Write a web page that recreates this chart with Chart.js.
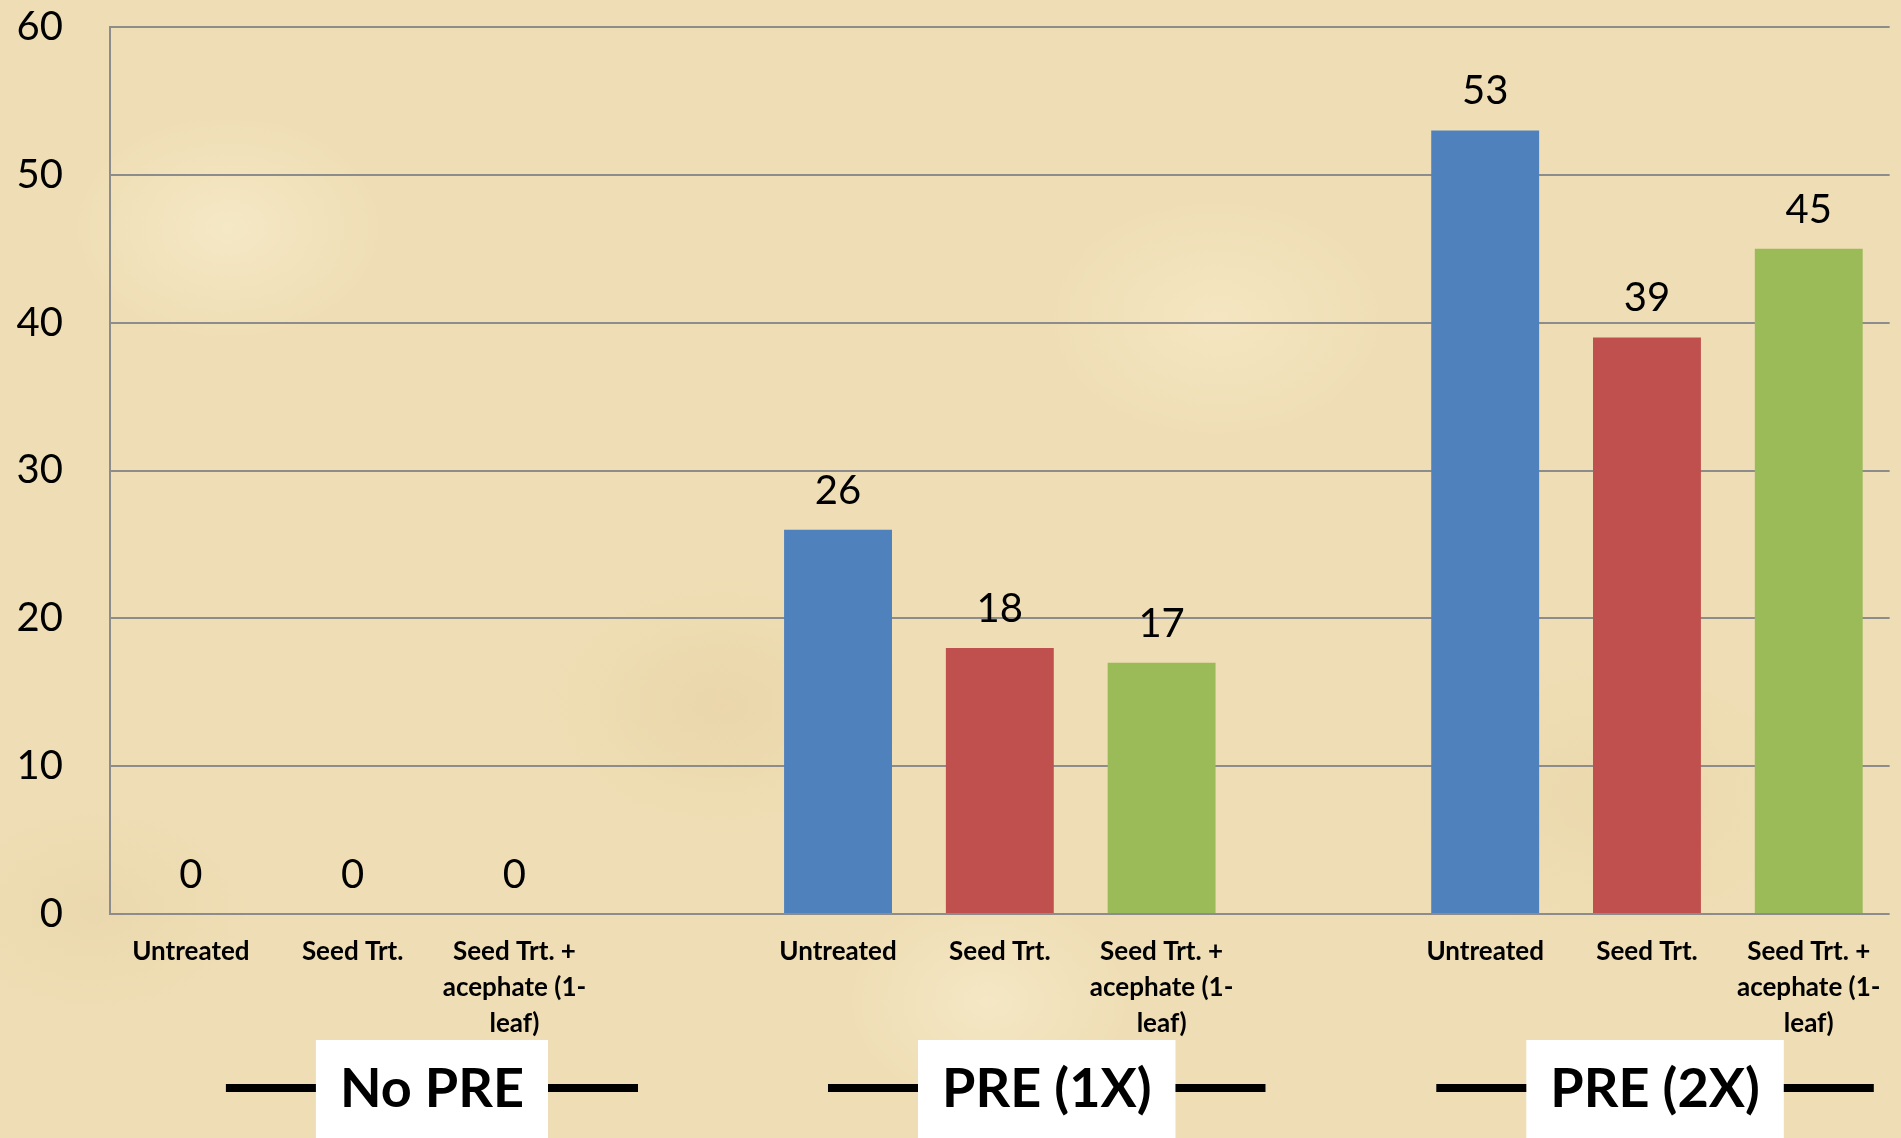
<!DOCTYPE html>
<html>
<head>
<meta charset="utf-8">
<script src="https://cdn.jsdelivr.net/npm/chart.js@4.4.1/dist/chart.umd.min.js"></script>
<style>
  html, body { margin: 0; padding: 0; }
  body {
    width: 1901px;
    height: 1138px;
    overflow: hidden;
    background-color: #efdeb5;
    background-image:
      radial-gradient(ellipse 220px 160px at 12% 20%, rgba(250, 240, 210, 0.55), rgba(250, 240, 210, 0) 70%),
      radial-gradient(ellipse 260px 180px at 38% 62%, rgba(225, 200, 150, 0.35), rgba(225, 200, 150, 0) 70%),
      radial-gradient(ellipse 240px 170px at 64% 28%, rgba(250, 238, 205, 0.5), rgba(250, 238, 205, 0) 70%),
      radial-gradient(ellipse 300px 200px at 85% 70%, rgba(228, 205, 158, 0.35), rgba(228, 205, 158, 0) 70%),
      radial-gradient(ellipse 200px 150px at 52% 88%, rgba(250, 240, 212, 0.5), rgba(250, 240, 212, 0) 70%),
      radial-gradient(ellipse 220px 150px at 5% 80%, rgba(226, 204, 160, 0.35), rgba(226, 204, 160, 0) 70%);
  }
  #wrap { position: relative; width: 1901px; height: 1138px; }
</style>
</head>
<body>
<div id="wrap"><canvas id="barChart"></canvas></div>
<script>
// treatments repeat inside each herbicide group
const categories = ['Untreated', 'Seed Trt.', ['Seed Trt. +', 'acephate (1-', 'leaf)']];
const groupNames = ['No PRE', 'PRE (1X)', 'PRE (2X)'];
const noPre = [0, 0, 0];
const pre1x = [26, 18, 17];
const pre2x = [53, 39, 45];
const barColors = ['#4F81BD', '#C0504D', '#9BBB59'];
const yTicks = [0, 10, 20, 30, 40, 50, 60];

// one blank slot between groups
const labels = [...categories, '', ...categories, '', ...categories];
const values = [...noPre, null, ...pre1x, null, ...pre2x];
const colors = [...barColors, 'transparent', ...barColors, 'transparent', ...barColors];

Chart.defaults.font.family = 'Lato, "Open Sans", sans-serif';
Chart.defaults.color = '#000';

const valueLabels = {
  id: 'valueLabels',
  afterDatasetsDraw(chart) {
    const ctx = chart.ctx;
    const meta = chart.getDatasetMeta(0);
    ctx.save();
    ctx.font = '40px Lato, "Open Sans", sans-serif';
    ctx.fillStyle = '#000';
    ctx.textAlign = 'center';
    ctx.textBaseline = 'middle';
    meta.data.forEach((bar, i) => {
      const v = values[i];
      if (v === null) return;
      const { x, y } = bar.getProps(['x', 'y'], true);
      ctx.fillText(String(v), x, y - 39);
    });
    ctx.restore();
  }
};

const groupLabels = {
  id: 'groupLabels',
  afterDraw(chart, args, opts) {
    const ctx = chart.ctx;
    const xs = chart.scales.x;
    ctx.save();
    ctx.font = 'bold 54px Lato, "Open Sans", sans-serif';
    ctx.textAlign = 'center';
    ctx.textBaseline = 'middle';
    groupNames.forEach((name, i) => {
      const cx = xs.getPixelForValue(opts.at[i]);
      const w = ctx.measureText(name).width + 48;
      const left = cx - w / 2;
      const right = cx + w / 2;
      ctx.fillStyle = '#fff';
      ctx.fillRect(left, opts.top, w, chart.height - opts.top);
      ctx.strokeStyle = '#000';
      ctx.lineWidth = 8;
      ctx.beginPath();
      ctx.moveTo(left - opts.line, opts.lineY);
      ctx.lineTo(left, opts.lineY);
      ctx.moveTo(right, opts.lineY);
      ctx.lineTo(right + opts.line, opts.lineY);
      ctx.stroke();
      ctx.fillStyle = '#000';
      ctx.fillText(name, cx, opts.lineY + 2);
    });
    ctx.restore();
  }
};

new Chart(document.getElementById('barChart'), {
  type: 'bar',
  data: {
    labels: labels,
    datasets: [{
      data: values,
      backgroundColor: colors,
      barPercentage: 0.667,
      categoryPercentage: 1,
    }],
  },
  options: {
    responsive: true,
    maintainAspectRatio: false,
    animation: false,
    layout: { padding: { top: 27, right: 11, bottom: 0, left: 0 } },
    plugins: {
      legend: { display: false },
      tooltip: { enabled: false },
      groupLabels: { at: [1.49, 5.29, 9.05], top: 1040, lineY: 1088, line: 90 },
    },
    scales: {
      x: {
        grid: { display: false, drawTicks: false },
        border: { display: false },
        ticks: {
          autoSkip: false,
          maxRotation: 0,
          padding: 20,
          font: { size: 26, weight: 'bold', lineHeight: 1.385 },
        },
        afterFit(scale) { scale.height = 224; },
      },
      y: {
        min: 0,
        max: 60,
        afterBuildTicks(scale) { scale.ticks = yTicks.map(v => ({ value: v })); },
        // invisible tick marks keep the labels clear of the axis line
        grid: { color: '#8c8c8c', lineWidth: 2, drawTicks: true, tickLength: 47, tickColor: 'transparent' },
        border: { display: true, color: '#8c8c8c', width: 2 },
        ticks: { padding: 0, font: { size: 40 } },
        afterFit(scale) { scale.width = 110; },
      },
    },
  },
  plugins: [valueLabels, groupLabels],
});
</script>
</body>
</html>
